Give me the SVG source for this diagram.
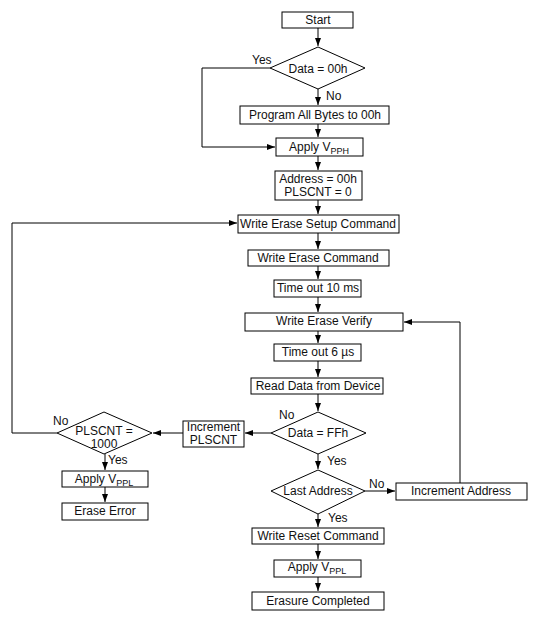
<svg xmlns="http://www.w3.org/2000/svg" width="535" height="618" viewBox="0 0 535 618">
<style>
.b{fill:#fff;stroke:#000;stroke-width:1}
.c{fill:none;stroke:#000;stroke-width:1}
text{font-family:"Liberation Sans",Arial,sans-serif;font-size:12px;fill:#111}
.m{text-anchor:middle}
.s{font-size:9px}
</style>
<defs>
<marker id="a" markerUnits="userSpaceOnUse" markerWidth="8" markerHeight="6" refX="8" refY="3" orient="auto"><path d="M0,0 L8,3 L0,6 z" fill="#000"/></marker>
</defs>
<rect width="535" height="618" fill="#fff"/>
<g id="connectors">
<path class="c" d="M318,28 V46" marker-end="url(#a)"/>
<path class="c" d="M318,89 V105" marker-end="url(#a)"/>
<path class="c" d="M318,124 V137" marker-end="url(#a)"/>
<path class="c" d="M318,156 V170" marker-end="url(#a)"/>
<path class="c" d="M318,200 V214" marker-end="url(#a)"/>
<path class="c" d="M318,233 V249" marker-end="url(#a)"/>
<path class="c" d="M318,266 V279" marker-end="url(#a)"/>
<path class="c" d="M318,297 V312" marker-end="url(#a)"/>
<path class="c" d="M318,331 V343" marker-end="url(#a)"/>
<path class="c" d="M318,361 V377" marker-end="url(#a)"/>
<path class="c" d="M318,394 V411" marker-end="url(#a)"/>
<path class="c" d="M318,454 V469" marker-end="url(#a)"/>
<path class="c" d="M318,514 V527" marker-end="url(#a)"/>
<path class="c" d="M318,544 V559" marker-end="url(#a)"/>
<path class="c" d="M318,577 V591" marker-end="url(#a)"/>
<path class="c" d="M270,68 H202 V147 H275" marker-end="url(#a)"/>
<path class="c" d="M271,433 H245" marker-end="url(#a)"/>
<path class="c" d="M183,433 H153" marker-end="url(#a)"/>
<path class="c" d="M57,433 H12 V223 H237" marker-end="url(#a)"/>
<path class="c" d="M105,454 V470" marker-end="url(#a)"/>
<path class="c" d="M105,487 V502" marker-end="url(#a)"/>
<path class="c" d="M365,491 H395" marker-end="url(#a)"/>
<path class="c" d="M460,483 V322 H404" marker-end="url(#a)"/>
</g>
<g id="start"><rect class="b" x="282" y="12" width="71" height="16"/><text class="m" x="318" y="24">Start</text></g>
<g id="data00"><path class="b" d="M318,47 L365,68 L318,89 L270,68 z"/><text class="m" x="318" y="73">Data = 00h</text></g>
<g id="program"><rect class="b" x="240" y="106" width="149" height="18"/><text class="m" x="315" y="119">Program All Bytes to 00h</text></g>
<g id="vpph"><rect class="b" x="276" y="138" width="87" height="18"/><text class="m" x="319" y="151">Apply V<tspan class="s" dy="3">PPH</tspan></text></g>
<g id="addr"><rect class="b" x="275" y="171" width="87" height="29"/><text class="m" x="318" y="183">Address = 00h</text><text class="m" x="318" y="196">PLSCNT = 0</text></g>
<g id="setup"><rect class="b" x="238" y="215" width="161" height="18"/><text class="m" x="318" y="228">Write Erase Setup Command</text></g>
<g id="erase"><rect class="b" x="248" y="250" width="141" height="16"/><text class="m" x="318" y="262">Write Erase Command</text></g>
<g id="t10"><rect class="b" x="274" y="280" width="87" height="17"/><text class="m" x="318" y="292">Time out 10 ms</text></g>
<g id="verify"><rect class="b" x="245" y="313" width="158" height="18"/><text class="m" x="324" y="325">Write Erase Verify</text></g>
<g id="t6"><rect class="b" x="274" y="344" width="87" height="17"/><text class="m" x="318" y="356">Time out 6 µs</text></g>
<g id="read"><rect class="b" x="251" y="378" width="132" height="16"/><text class="m" x="318" y="390">Read Data from Device</text></g>
<g id="dataff"><path class="b" d="M318,412 L366,433 L318,454 L271,433 z"/><text class="m" x="318" y="437">Data = FFh</text></g>
<g id="incpls"><rect class="b" x="183" y="421" width="61" height="26"/><text class="m" x="213.5" y="431">Increment</text><text class="m" x="213.5" y="444">PLSCNT</text></g>
<g id="pls"><path class="b" d="M104,412 L152,433 L104,454 L57,433 z"/><text class="m" x="104" y="435">PLSCNT =</text><text class="m" x="104" y="448">1000</text></g>
<g id="vppl1"><rect class="b" x="62" y="471" width="86" height="16"/><text class="m" x="104" y="483">Apply V<tspan class="s" dy="3">PPL</tspan></text></g>
<g id="err"><rect class="b" x="62" y="503" width="86" height="17"/><text class="m" x="105" y="515">Erase Error</text></g>
<g id="last"><path class="b" d="M318,470 L365,491 L318,514 L271,491 z"/><text class="m" x="318" y="495">Last Address</text></g>
<g id="incaddr"><rect class="b" x="396" y="483" width="131" height="17"/><text class="m" x="461" y="495">Increment Address</text></g>
<g id="reset"><rect class="b" x="252" y="528" width="132" height="16"/><text class="m" x="318" y="540">Write Reset Command</text></g>
<g id="vppl2"><rect class="b" x="274" y="560" width="87" height="17"/><text class="m" x="317" y="571">Apply V<tspan class="s" dy="3">PPL</tspan></text></g>
<g id="done"><rect class="b" x="252" y="592" width="132" height="18"/><text class="m" x="318" y="605">Erasure Completed</text></g>
<g id="labels">
<text x="252" y="64">Yes</text>
<text x="326" y="100">No</text>
<text x="279" y="419">No</text>
<text x="327" y="465">Yes</text>
<text x="369" y="488">No</text>
<text x="328" y="522">Yes</text>
<text x="53" y="425">No</text>
<text x="108" y="464">Yes</text>
</g>
</svg>
